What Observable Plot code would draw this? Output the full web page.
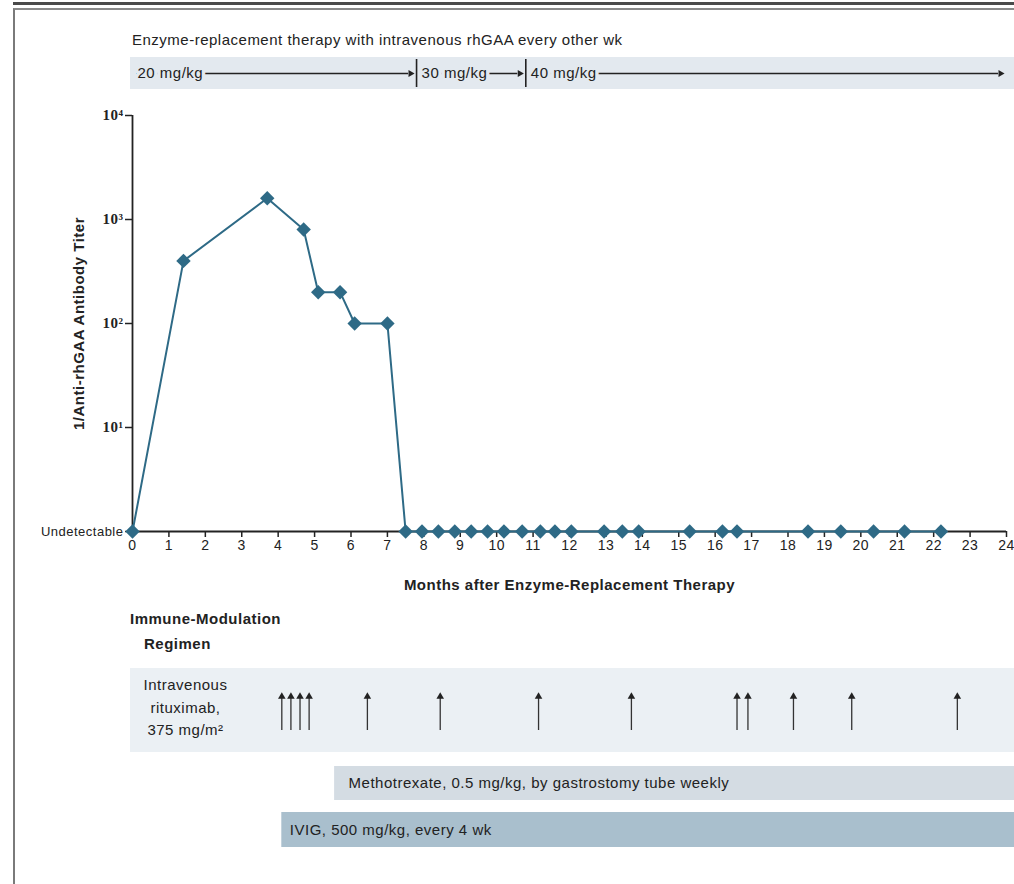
<!DOCTYPE html>
<html>
<head>
<meta charset="utf-8">
<script src="https://cdn.jsdelivr.net/npm/d3@7"></script>
<script src="https://cdn.jsdelivr.net/npm/@observablehq/plot@0.6"></script>
<style>
  html, body { margin: 0; padding: 0; background: #fff; overflow: hidden; }
  #page { position: relative; width: 1014px; height: 884px; overflow: hidden;
          font-family: "Liberation Sans", Arial, sans-serif; color: #222; }
  .abs { position: absolute; }
  #page svg text { letter-spacing: 0.5px; }
  .txt { font-size: 15px; letter-spacing: 0.5px; white-space: nowrap; }
</style>
</head>
<body>
<div id="page">
  <div class="abs" style="left:13px;right:0;top:2px;height:0;border-top:3px solid #4a4a4a"></div>
  <div class="abs" style="left:13px;right:0;top:8px;bottom:-5px;border-top:2px solid #8a8a8a;border-left:2px solid #7a7a7a"></div>
  <div class="abs txt" id="ertTitle" style="left:132px;top:31px;line-height:18px"></div>
  <div class="abs" id="ert" style="left:0;top:57px"></div>
  <div class="abs" id="main" style="left:0;top:100px"></div>
  <div class="abs txt" id="immTitle" style="left:130px;top:606px;line-height:25px;font-weight:bold"></div>
  <div class="abs" id="ritux" style="left:0;top:668px"></div>
  <div class="abs" id="mtx" style="left:0;top:766px"></div>
  <div class="abs" id="ivig" style="left:0;top:812px"></div>
</div>
<script>
// ---------- data ----------
const ertTitle = "Enzyme-replacement therapy with intravenous rhGAA every other wk";
const doseLabels = ["20 mg/kg", "30 mg/kg", "40 mg/kg"];
const doseStart = [0, 7.8, 10.8];
const doseEnd = [7.8, 10.8, 24];

// months after start of ERT, and 1/anti-rhGAA titer (null = undetectable)
const months = [0, 1.4, 3.7, 4.7, 5.1, 5.7, 6.1, 7.0,
  7.5, 7.95, 8.4, 8.85, 9.3, 9.75, 10.2, 10.7, 11.2, 11.6, 12.05,
  12.95, 13.45, 13.9, 15.3, 16.2, 16.6, 18.55, 19.45, 20.35, 21.2, 22.2];
const titers = [null, 400, 1600, 800, 200, 200, 100, 100,
  null, null, null, null, null, null, null, null, null, null, null,
  null, null, null, null, null, null, null, null, null, null, null];
const UNDETECTABLE = 1; // drawn at the bottom of the log axis

const xTicks = [0,1,2,3,4,5,6,7,8,9,10,11,12,13,14,15,16,17,18,19,20,21,22,23,24];
const yTickValues = [10, 100, 1000, 10000];
const yTickLabels = ["10¹", "10²", "10³", "10⁴"];
const undetectableLabel = "Undetectable";
const xLabel = "Months after Enzyme-Replacement Therapy";
const yLabel = "1/Anti-rhGAA Antibody Titer";

const immTitle = ["Immune-Modulation", "Regimen"];
const rituximabLabel = "Intravenous\nrituximab,\n375 mg/m²";
const rituximabMonths = [4.1, 4.35, 4.6, 4.85, 6.45, 8.45, 11.15, 13.7, 16.6, 16.9, 18.15, 19.75, 22.65];
const methotrexateLabel = "Methotrexate, 0.5 mg/kg, by gastrostomy tube weekly";
const methotrexateStart = 5.55;
const ivigLabel = "IVIG, 500 mg/kg, every 4 wk";
const ivigStart = 4.1;
const followUpEnd = 24;

// ---------- common ----------
const teal = "#2e6a86";
const ink = "#222";
const W = 1014, ML = 132, MR = 8;
const xDomain = [0, 24];
const font = "Liberation Sans, Arial, sans-serif";
const baseStyle = {fontFamily: font, fontSize: "15px", color: ink, background: "transparent", overflow: "visible"};

document.getElementById("ertTitle").textContent = ertTitle;
document.getElementById("immTitle").innerHTML = immTitle[0] + "<br><span style='padding-left:14px'>" + immTitle[1] + "</span>";

// ---------- ERT dose band ----------
const ertFill = "#e3e9ef";
const doses = doseLabels.map((label, i) => ({label, start: doseStart[i], end: doseEnd[i]}));
const ert = Plot.plot({
  width: W, height: 32, marginLeft: ML, marginRight: MR, marginTop: 0, marginBottom: 0,
  style: baseStyle,
  x: {domain: xDomain, axis: null},
  y: {type: "point", domain: ["dose"], axis: null},
  marks: [
    Plot.rect([{start: 0, end: followUpEnd}], {x1: "start", x2: "end", fill: ertFill, insetLeft: -2, insetRight: -8}),
    Plot.ruleY(doses, {x1: "start", x2: "end", y: () => "dose", stroke: ink, strokeWidth: 1.5, insetLeft: 4, insetRight: 8}),
    Plot.dot(doses, {x: "end", y: () => "dose", symbol: "triangle", rotate: 90, r: 2.6, fill: ink, dx: -6}),
    Plot.text(doses, {x: "start", y: () => "dose", text: "label", textAnchor: "start", dx: 5,
      fill: ink, stroke: ertFill, strokeWidth: 7, fontSize: 15}),
    Plot.ruleX(doses.slice(1), {x: "start", stroke: ink, strokeWidth: 1.6, insetTop: 2, insetBottom: 2})
  ]
});
document.getElementById("ert").appendChild(ert);

// ---------- main titer chart ----------
const series = months.map((m, i) => ({month: m, titer: titers[i] == null ? UNDETECTABLE : titers[i]}));
const main = Plot.plot({
  width: W, height: 500, marginLeft: ML, marginRight: MR, marginTop: 15, marginBottom: 69,
  style: baseStyle,
  x: {domain: xDomain, label: null},
  y: {type: "log", domain: [1, 10000], label: null},
  marks: [
    Plot.axisX(xTicks, {tickSize: 6, tickPadding: 3, fontSize: 14, strokeWidth: 1.5, label: null}),
    Plot.axisY(yTickValues, {tickSize: 7, tickPadding: 2, fontSize: 15, strokeWidth: 1.5, label: null,
      fontFamily: "Liberation Serif, DejaVu Serif, serif", fontWeight: "bold",
      tickFormat: d => yTickLabels[yTickValues.indexOf(d)]}),
    Plot.axisY([UNDETECTABLE], {tickSize: 7, tickPadding: 2, fontSize: 13, strokeWidth: 1.5, label: null,
      tickFormat: () => undetectableLabel}),
    Plot.ruleX([0], {stroke: ink, strokeWidth: 1.8}),
    Plot.ruleY([UNDETECTABLE], {stroke: ink, strokeWidth: 1.8}),
    Plot.line(series, {x: "month", y: "titer", stroke: teal, strokeWidth: 2}),
    Plot.dot(series, {x: "month", y: "titer", symbol: "diamond2", r: 6.5, fill: teal}),
    Plot.text([xLabel], {frameAnchor: "bottom", lineAnchor: "middle", textAnchor: "middle", dy: 54,
      fontWeight: "bold", fontSize: 15, fill: ink}),
    Plot.text([yLabel], {frameAnchor: "left", textAnchor: "middle", lineAnchor: "middle", rotate: -90, dx: -53,
      fontWeight: "bold", fontSize: 15, fill: ink})
  ]
});
document.getElementById("main").appendChild(main);

// ---------- immune-modulation bands ----------
function bandPlot(height, start, fill, marks) {
  return Plot.plot({
    width: W, height, marginLeft: ML, marginRight: MR, marginTop: 0, marginBottom: 0,
    style: baseStyle,
    x: {domain: xDomain, axis: null},
    marks: [
      Plot.rect([{start, end: followUpEnd}], {x1: "start", x2: "end", fill, insetLeft: start === 0 ? -2 : 0, insetRight: -8}),
      ...marks
    ]
  });
}

document.getElementById("ritux").appendChild(bandPlot(84, 0, "#ebf0f4", [
  Plot.ruleX(rituximabMonths, {stroke: "#333", strokeWidth: 1.3, insetTop: 30, insetBottom: 22}),
  Plot.dot(rituximabMonths, {x: d => d, symbol: "triangle", r: 2.8, fill: ink, dy: -14}),
  Plot.text([rituximabLabel], {frameAnchor: "left", textAnchor: "middle", dx: 53, dy: -5, lineHeight: 1.5,
    fontSize: 15, fill: ink})
]));

document.getElementById("mtx").appendChild(bandPlot(34, methotrexateStart, "#d4dce3", [
  Plot.text([{start: methotrexateStart, label: methotrexateLabel}], {x: "start", text: "label",
    textAnchor: "start", dx: 14, fontSize: 15, fill: ink})
]));

document.getElementById("ivig").appendChild(bandPlot(35, ivigStart, "#a9bfcd", [
  Plot.text([{start: ivigStart, label: ivigLabel}], {x: "start", text: "label",
    textAnchor: "start", dx: 8, fontSize: 15, fill: ink})
]));
</script>
</body>
</html>
